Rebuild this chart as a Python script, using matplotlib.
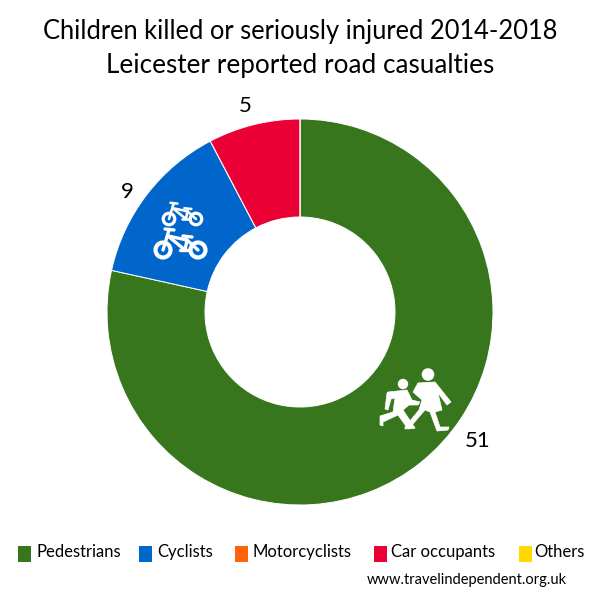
import matplotlib
matplotlib.use("Agg")
import matplotlib.pyplot as plt
from matplotlib.patches import Rectangle, Polygon, Circle

categories = ["Pedestrians", "Cyclists", "Motorcyclists", "Car occupants", "Others"]
values = [51, 9, 0, 5, 0]
colors = ["#38761D", "#0066CC", "#FF6309", "#EA0034", "#FFD900"]
title_lines = ["Children killed or seriously injured 2014-2018", "Leicester reported road casualties"]
source = "www.travelindependent.org.uk"

plt.rcParams["font.family"] = ["Lato", "DejaVu Sans"]
fig = plt.figure(figsize=(6, 6), dpi=100, facecolor="white")
ax = fig.add_axes([0, 0, 1, 1])
Y = lambda y: 600 - y

ax.pie(values, colors=colors, center=(300, Y(312)), radius=193, startangle=90,
       counterclock=False, wedgeprops=dict(width=98, edgecolor="white", linewidth=0.7))
ax.set_xlim(0, 600)
ax.set_ylim(0, 600)
ax.set_aspect("equal")
ax.axis("off")

ax.text(300, Y(31), title_lines[0], ha="center", va="center", fontsize=18.4, color="black")
ax.text(300, Y(65), title_lines[1], ha="center", va="center", fontsize=18.8, color="black")

for (x, y), v in zip([(478, 441), (127, 192), (245, 106)], [values[0], values[1], values[3]]):
    ax.text(x, Y(y), str(v), ha="center", va="center", fontsize=16, color="black")

swatch_x = [18, 139, 235, 374, 519]
text_x = [36, 157, 253, 391, 534]
for sx, tx, c, name in zip(swatch_x, text_x, colors, categories):
    ax.add_patch(Rectangle((sx, Y(562)), 13, 16, facecolor=c, edgecolor="none"))
    ax.text(tx, Y(552), name, ha="left", va="center", fontsize=12, color="black")
ax.text(367, Y(580), source, ha="left", va="center", fontsize=10.5, color="black")

def poly(pts):
    ax.add_patch(Polygon([(x, Y(y)) for x, y in pts], closed=True, facecolor="white",
                         edgecolor="white", linewidth=0.5, zorder=5))

def bike(ox, oy, s):
    # pictogram in local units: left wheel at (0, 0), right wheel at (35, 0)
    P = lambda a, b: (ox + a * s, oy + b * s)
    for a in (0, 35):
        cx, cy = P(a, 0)
        ax.add_patch(Circle((cx, Y(cy)), 7.5 * s, facecolor="none", edgecolor="white",
                            linewidth=3.0 * s, zorder=5))
    segs = [((0, 0), (6, -20)), ((2, -21), (11, -20)), ((5, -14), (24, -10)), ((5, -14), (22, 0)),
            ((24, -10), (22, 0)), ((24, -10), (35, 0)), ((20, -14), (29, -13)), ((17, 0), (27, 0))]
    for a, b in segs:
        p, q = P(*a), P(*b)
        ax.plot([p[0], q[0]], [Y(p[1]), Y(q[1])], color="white", lw=2.4 * s,
                solid_capstyle="round", zorder=5)

bike(169, 219, 0.77)
bike(163, 250, 1.0)

# Children road-sign pictogram
ax.add_patch(Circle((428, Y(374.5)), 6.3, facecolor="white", edgecolor="none", zorder=5))
ax.add_patch(Circle((403, Y(384)), 5.2, facecolor="white", edgecolor="none", zorder=5))
poly([(418, 383), (435, 382), (451, 402), (447, 405), (438, 393), (442, 410), (435, 412), (440, 427),
      (449, 427), (448, 430), (437, 431), (430, 412), (425, 410), (412, 425), (415, 428), (405, 429),
      (405, 427), (419, 410), (422, 400), (413, 392)])
poly([(388, 392), (407, 390), (412, 400), (420, 402), (418, 405), (409, 405), (403, 410), (415, 428),
      (408, 429), (398, 415), (383, 422), (383, 426), (380, 425), (380, 416), (393, 412), (395, 398),
      (391, 399), (388, 410), (385, 409), (387, 393)])

fig.savefig("out.png", dpi=100, facecolor="white")
